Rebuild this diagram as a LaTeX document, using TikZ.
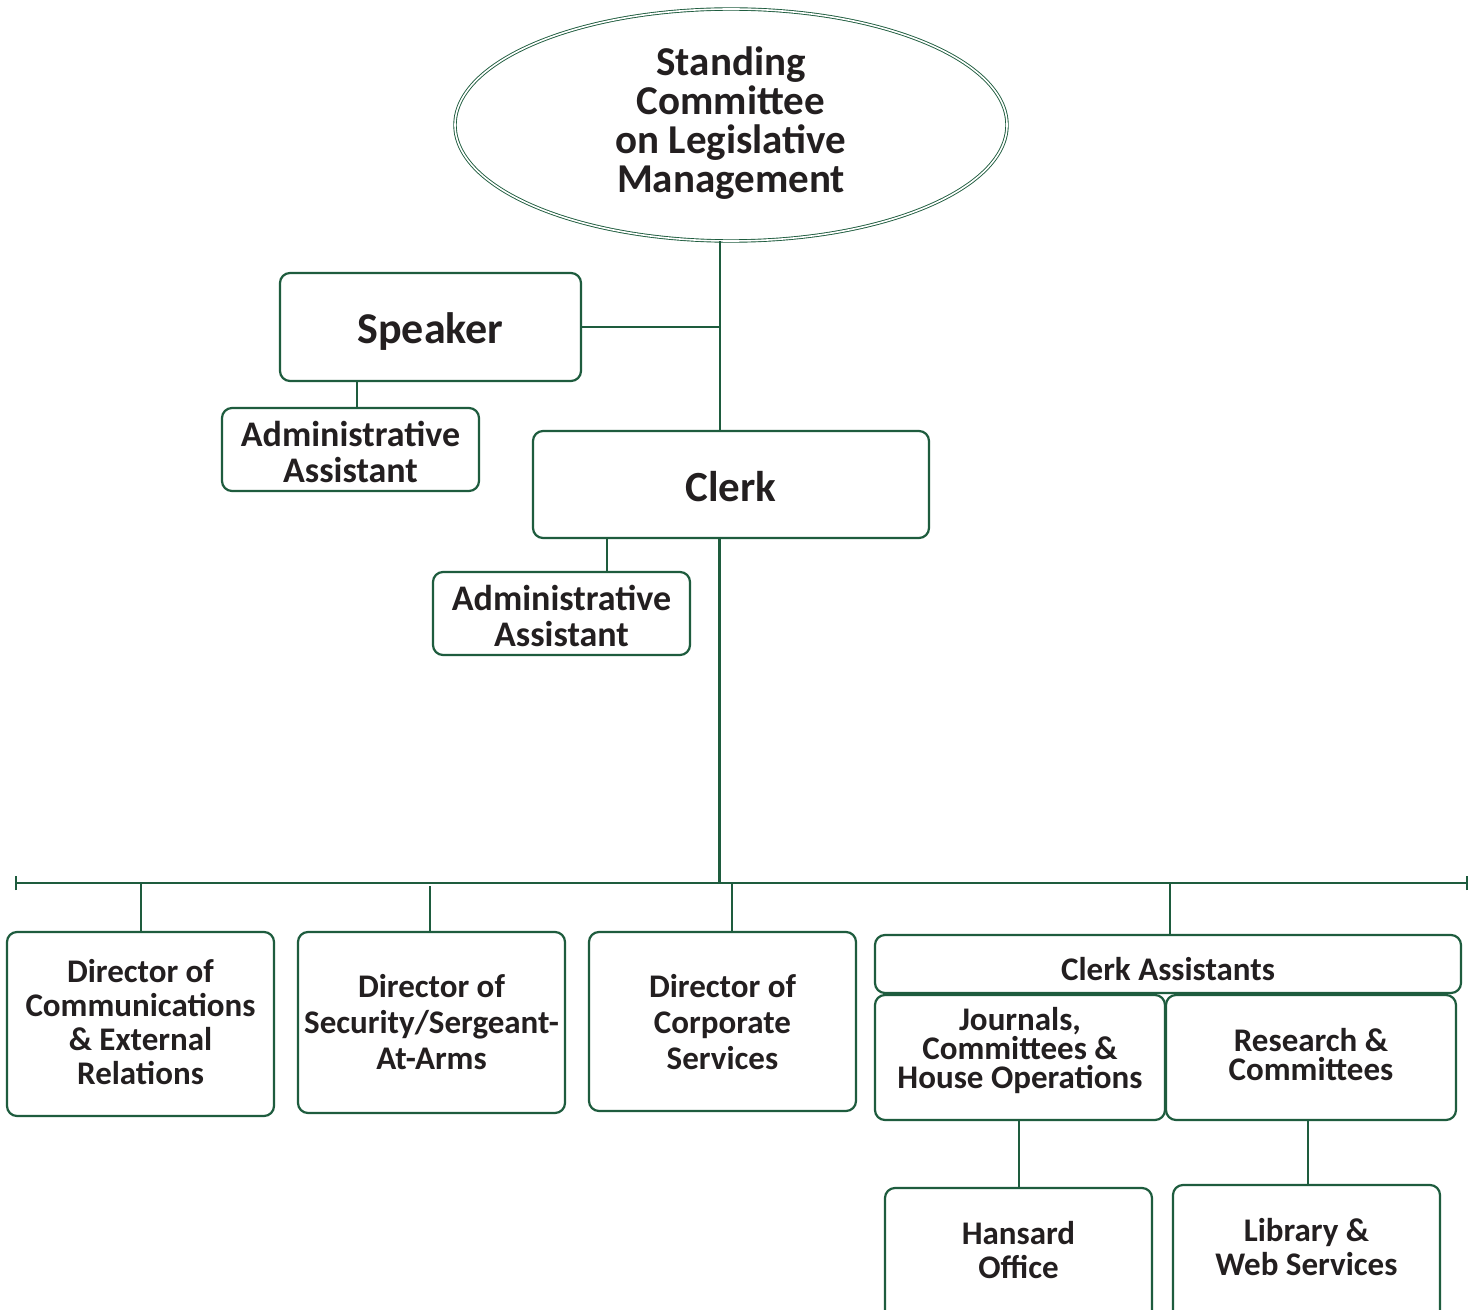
\documentclass[tikz,border=0pt]{standalone}
\usepackage{fontspec}
\setmainfont{Carlito}
\usetikzlibrary{shapes.geometric}
\definecolor{lgreen}{RGB}{30,92,62}
\definecolor{ltext}{RGB}{35,31,32}
\tikzset{
  orgbox/.style={draw=lgreen, line width=2.2bp, rounded corners=10bp, inner sep=0pt,
    align=center, text=ltext, fill=white},
  conn/.style={draw=lgreen, line width=2.2bp},
  txt/.style={inner sep=0pt, align=center, text=ltext},
}
\newcommand{\fs}[2]{\fontsize{#1bp}{#2bp}\selectfont\bfseries}
\newcommand{\rb}[2]{\raisebox{#1bp}[\height][\depth]{#2}}
\begin{document}
\begin{tikzpicture}[x=1bp,y=-1bp]
\useasboundingbox (0,0) rectangle (1477,1310);
\clip (0,0) rectangle (1477,1310);
\fill[white] (0,0) rectangle (1477,1310);
% ellipse
\node[ellipse, draw=lgreen, line width=0.9bp, double=white, double distance=1.6bp,
  minimum width=552bp, minimum height=232bp, inner sep=0pt, align=center, text=ltext,
  font=\fs{41}{39}] (slm) at (731,125) {\rb{2}{\parbox{240bp}{\centering Standing\\Committee\\on Legislative\\Management}}};
% speaker
\node[orgbox, minimum width=301bp, minimum height=108bp, font=\fs{44}{40}] (spk) at (430.5,327) {\rb{-5}{Speaker}};
\node[orgbox, minimum width=257bp, minimum height=83bp, font=\fs{36}{36}] (aa1) at (350.5,449.5) {\rb{-2}{\parbox{257bp}{\centering Administrative\\Assistant}}};
% clerk
\node[orgbox, minimum width=396bp, minimum height=107bp, font=\fs{43}{40}] (clk) at (731,484.5) {\rb{-2}{Clerk}};
\node[orgbox, minimum width=257bp, minimum height=83bp, font=\fs{36}{36}] (aa2) at (561.5,613.5) {\rb{-2}{\parbox{257bp}{\centering Administrative\\Assistant}}};
% bus
\coordinate (busL) at (16,883);
\coordinate (busR) at (1467,883);
\coordinate (tj) at (720,327);
% directors
\node[orgbox, minimum width=267bp, minimum height=184bp, font=\fs{33}{34}] (dce) at (140.5,1024) {\rb{2}{\parbox{267bp}{\centering Director of\\Communications\\\& External\\Relations}}};
\node[orgbox, minimum width=267bp, minimum height=181bp, font=\fs{33}{36}] (dss) at (431.5,1022.5) {\parbox{267bp}{\centering Director of\\Security/Sergeant-\\At-Arms}};
\node[orgbox, minimum width=267bp, minimum height=179bp, font=\fs{33}{36}] (dcs) at (722.5,1021.5) {\rb{-1}{\parbox{267bp}{\centering Director of\\Corporate\\Services}}};
% clerk assistants
\node[orgbox, minimum width=586bp, minimum height=58bp, font=\fs{33}{34}] (ca) at (1168,964) {\rb{-5}{Clerk Assistants}};
\node[orgbox, minimum width=290bp, minimum height=125bp] (jch) at (1020,1057.5) {};
\node[txt, font=\fs{33}{29}] at (1020,1050.5) {\parbox{290bp}{\centering Journals,\\Committees \&\\House Operations}};
\node[orgbox, minimum width=290bp, minimum height=125bp, font=\fs{33}{29}] (rc) at (1311,1057.5) {\rb{3}{\parbox{290bp}{\centering Research \&\\Committees}}};
\node[orgbox, minimum width=267bp, minimum height=134bp, font=\fs{33}{34}] (ho) at (1018.5,1255) {\rb{5}{\parbox{267bp}{\centering Hansard\\Office}}};
\node[orgbox, minimum width=267bp, minimum height=137bp, font=\fs{33}{34}] (lws) at (1306.5,1253.5) {\rb{6}{\parbox{267bp}{\centering Library \&\\Web Services}}};
% connectors
\draw[conn] (slm.south -| tj) -- (tj) -- (clk.north -| tj);
\draw[conn] (spk.east) -- (tj);
\draw[conn] (357,381) coordinate (s1) -- (s1 |- aa1.north);
\draw[conn] (607,538) coordinate (s2) -- (s2 |- aa2.north);
\draw[conn, line width=3bp] (719,538) -- (719,883);
\draw[conn] (busL) -- (busR);
\draw[conn] ([yshift=-7bp]busL) -- ([yshift=7bp]busL);
\draw[conn] ([yshift=-7bp]busR) -- ([yshift=7bp]busR);
\draw[conn] (141,883) -- (dce.north -| 141,0);
\draw[conn] (430,886) -- (dss.north -| 430,0);
\draw[conn] (732,883) -- (dcs.north -| 732,0);
\draw[conn] (1170,883) -- (ca.north -| 1170,0);
\draw[conn] (jch.south -| 1019,0) -- (ho.north -| 1019,0);
\draw[conn] (rc.south -| 1308,0) -- (lws.north -| 1308,0);
\end{tikzpicture}
\end{document}
